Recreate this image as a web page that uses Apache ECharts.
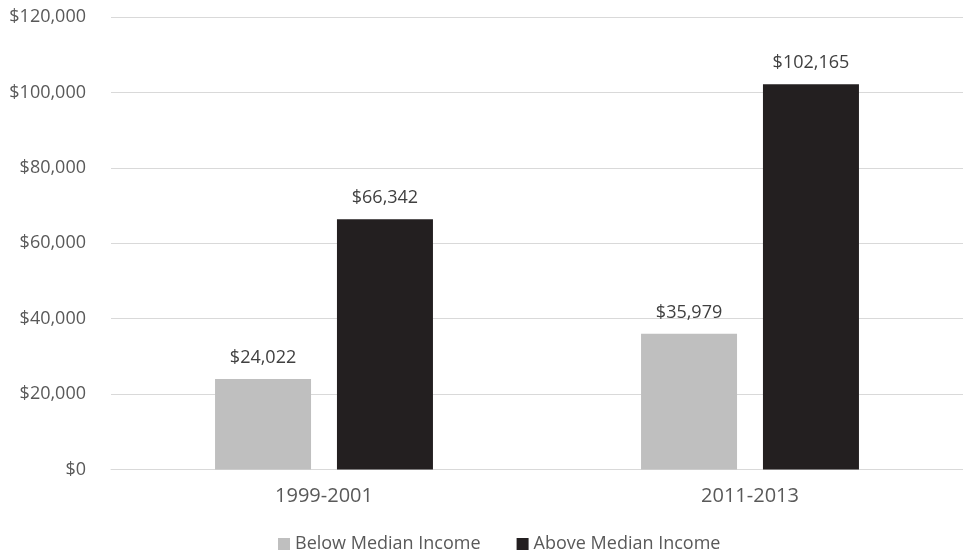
<!DOCTYPE html>
<html>
<head>
<meta charset="utf-8">
<script src="https://cdn.jsdelivr.net/npm/echarts@6/dist/echarts.min.js"></script>
<style>
  html, body { margin: 0; padding: 0; background: #ffffff; }
  #chart { width: 963px; height: 554px; }
</style>
</head>
<body>
<div id="chart"></div>
<script>
// Median household income by period, below and above the median
const categories = ['1999-2001', '2011-2013'];
const seriesNames = ['Below Median Income', 'Above Median Income'];
const belowMedian = [24022, 35979];
const aboveMedian = [66342, 102165];
const yTicks = [0, 20000, 40000, 60000, 80000, 100000, 120000];

const FONT = 'Open Sans';
const TEXT = '#595959';

function dollars(v) {
  return '$' + Number(v).toLocaleString('en-US');
}

const chart = echarts.init(document.getElementById('chart'), null, { renderer: 'canvas' });

const valueLabel = {
  show: true, position: 'top', distance: 12,
  fontFamily: FONT, fontSize: 18, color: '#404040',
  formatter: p => dollars(p.value)
};

chart.setOption({
  animation: false,
  backgroundColor: '#ffffff',
  textStyle: { fontFamily: FONT },
  // plot area runs slightly past the right edge of the canvas
  grid: { left: 111, width: 857, top: 17, height: 452.5, containLabel: false },
  legend: {
    bottom: -4,
    left: 273,
    itemWidth: 12,
    itemHeight: 12,
    itemGap: 36,
    icon: 'rect',
    textStyle: { fontFamily: FONT, fontSize: 18, color: TEXT },
    data: seriesNames
  },
  xAxis: {
    type: 'category',
    data: categories,
    axisLine: { show: true, lineStyle: { color: '#d9d9d9', width: 1 } },
    axisTick: { show: false },
    axisLabel: { fontFamily: FONT, fontSize: 20, color: TEXT, margin: 17 }
  },
  yAxis: {
    type: 'value',
    min: yTicks[0],
    max: yTicks[yTicks.length - 1],
    interval: yTicks[1] - yTicks[0],
    axisLine: { show: false },
    axisTick: { show: false },
    splitLine: { lineStyle: { color: '#d9d9d9', width: 1 } },
    axisLabel: {
      fontFamily: FONT, fontSize: 18, color: TEXT, margin: 25,
      formatter: dollars
    }
  },
  series: [
    {
      name: seriesNames[0],
      type: 'bar',
      data: belowMedian,
      barWidth: 96,
      barGap: '27%',
      itemStyle: { color: '#bfbfbf' },
      label: valueLabel
    },
    {
      name: seriesNames[1],
      type: 'bar',
      data: aboveMedian,
      barWidth: 96,
      barGap: '27%',
      itemStyle: { color: '#231f20' },
      label: valueLabel
    }
  ]
});
</script>
</body>
</html>
